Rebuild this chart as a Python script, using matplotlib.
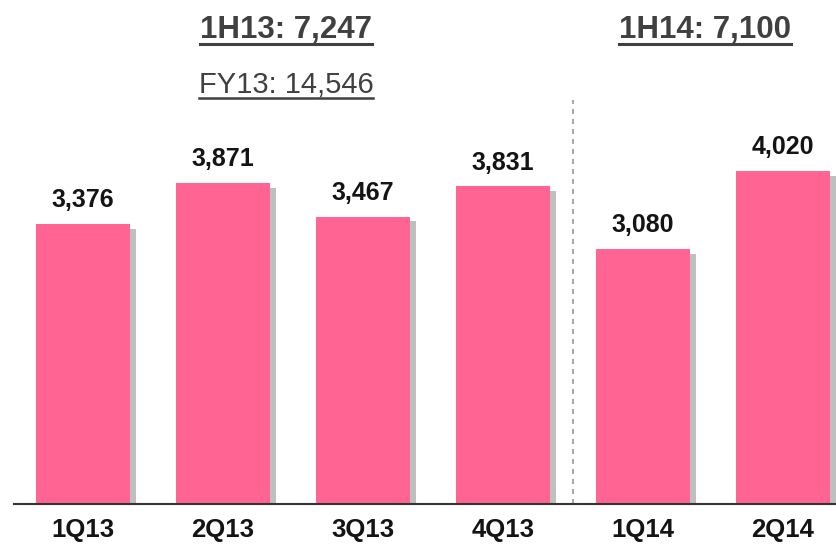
import matplotlib
matplotlib.use("Agg")
import matplotlib.pyplot as plt
import matplotlib.patheffects as pe
from matplotlib.lines import Line2D

quarters = ["1Q13", "2Q13", "3Q13", "4Q13", "1Q14", "2Q14"]
values = [3376, 3871, 3467, 3831, 3080, 4020]
value_labels = ["3,376", "3,871", "3,467", "3,831", "3,080", "4,020"]
half_labels = ["1H13: 7,247", "1H14: 7,100"]
fy_label = "FY13: 14,546"

plt.rcParams["font.family"] = ["Liberation Sans", "DejaVu Sans"]

bar_color = "#FF6493"
head_color = "#404040"

fig = plt.figure(figsize=(8.36, 5.46), dpi=100)
ax = fig.add_axes([14 / 836, 42 / 546, 822 / 836, 504 / 546])

x = list(range(len(quarters)))
bars = ax.bar(x, values, width=0.67, color=bar_color, zorder=2)
for b in bars:
    b.set_path_effects([pe.SimplePatchShadow(offset=(4.5, -3.5), shadow_rgbFace="0.5", alpha=0.5),
                        pe.Normal()])

for xi, v, lab in zip(x, values, value_labels):
    ax.annotate(lab, (xi, v), xytext=(0, 12), textcoords="offset points",
                ha="center", va="baseline", fontsize=18, fontweight="bold", color="#141414")

ax.set_xlim(-0.493, 5.379)
ax.set_ylim(0, 6080)

# separator between 2013 and 2014
ax.vlines(3.5, 0, 4870, colors="#9a9a9a", linestyles=(0, (3, 3)), linewidth=1.2, zorder=1)

for s in ["top", "right", "left"]:
    ax.spines[s].set_visible(False)
ax.spines["bottom"].set_color("#333333")
ax.spines["bottom"].set_linewidth(1.5)
ax.set_yticks([])
ax.set_xticks(x)
ax.set_xticklabels(quarters, fontsize=18.5, fontweight="bold", color="#141414")
ax.tick_params(axis="x", length=0, pad=10)

# headers
heads = []
heads.append(ax.text(1.45, 5720, half_labels[0], ha="center", va="center",
                     fontsize=22.5, fontweight="bold", color=head_color))
heads.append(ax.text(4.44, 5720, half_labels[1], ha="center", va="center",
                     fontsize=22.5, fontweight="bold", color=head_color))
heads.append(ax.text(1.45, 5060, fy_label, ha="center", va="center",
                     fontsize=21, color=head_color))

# underline the headers
fig.canvas.draw()
r = fig.canvas.get_renderer()
for t in heads:
    bb = t.get_window_extent(renderer=r)
    yy = bb.y0 + 1
    fig.add_artist(Line2D([bb.x0 / 836, bb.x1 / 836], [yy / 546, yy / 546],
                          color=head_color, linewidth=2.2 if t.get_fontweight() == "bold" else 1.8))

fig.savefig("out.png", dpi=100)
